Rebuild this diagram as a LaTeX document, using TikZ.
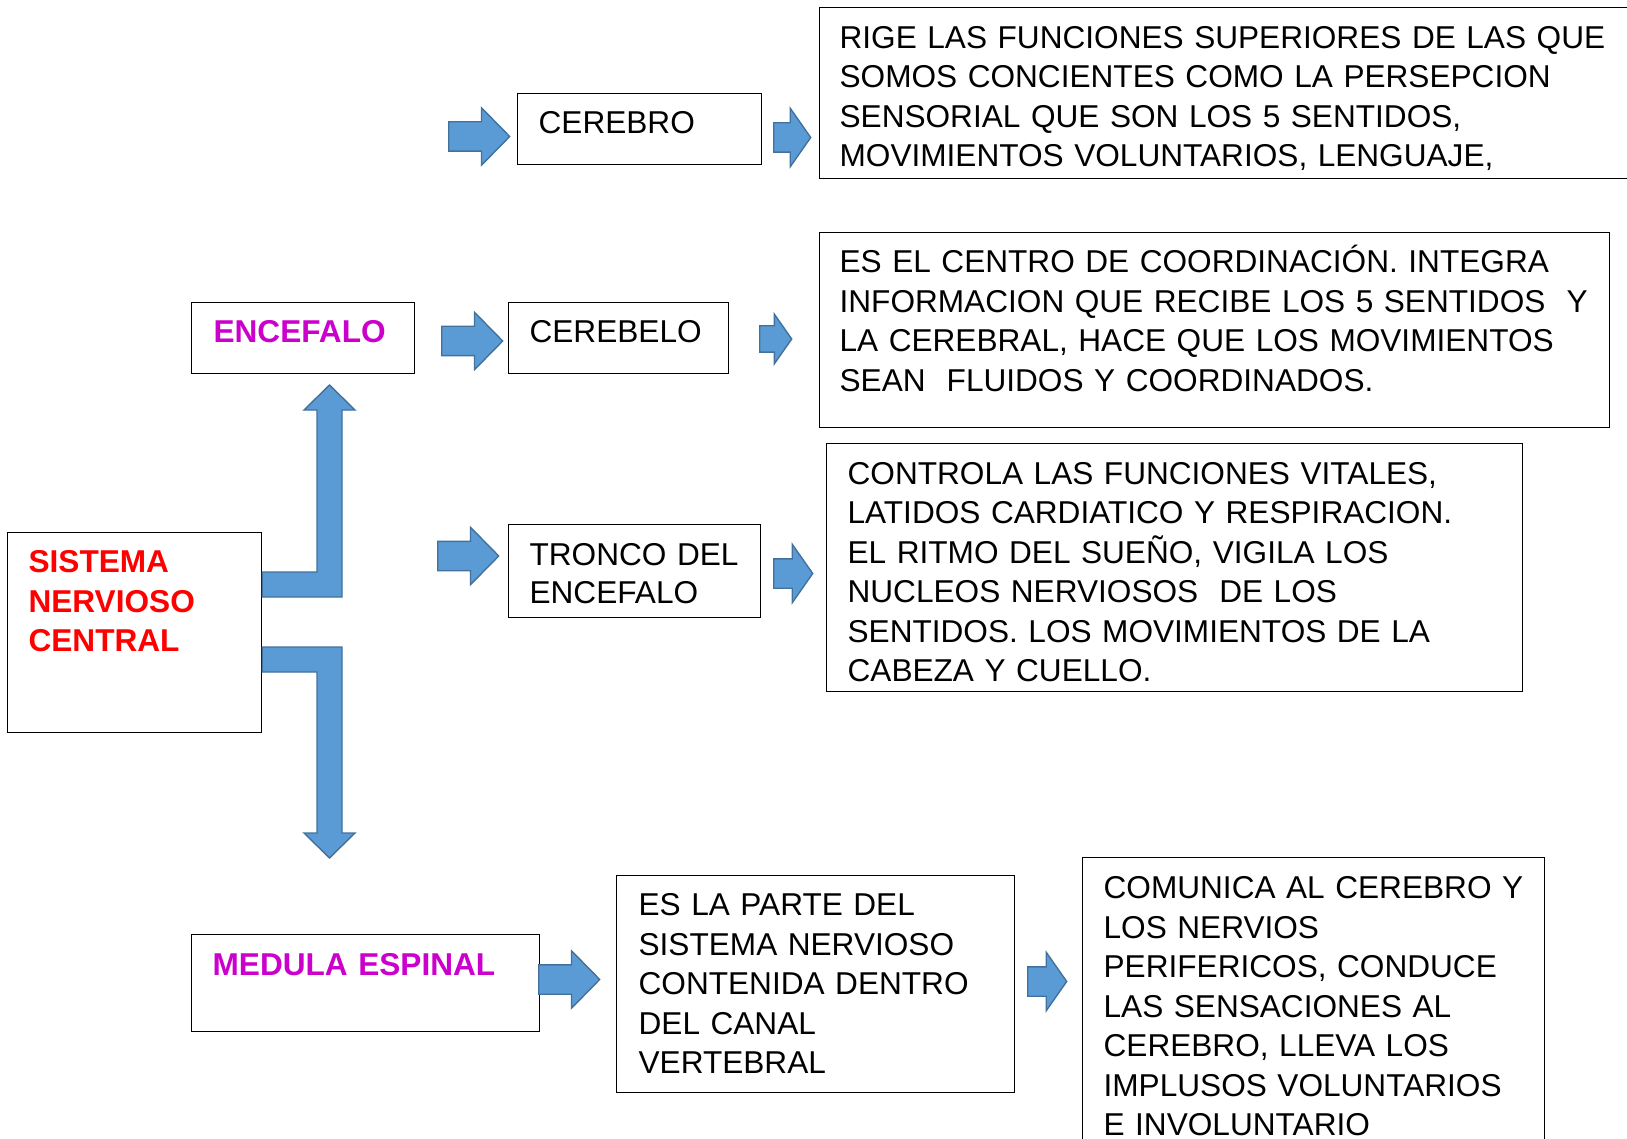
\documentclass[tikz,border=0pt]{standalone}
\usepackage{fontspec}
\setmainfont{Liberation Sans}
\usetikzlibrary{shapes.arrows}
\definecolor{arrowblue}{RGB}{91,155,213}
\definecolor{arrowline}{RGB}{65,113,156}
\definecolor{titlered}{RGB}{255,0,0}
\definecolor{titlemag}{RGB}{204,0,204}

\begin{document}
\begin{tikzpicture}[x=1pt,y=-1pt,
  box/.style={draw,line width=1.2pt,anchor=north west,
   inner ysep=0pt,inner xsep=21pt,align=left,
   font=\fontsize{31.6}{39.5}\selectfont},
  title/.style={box,font=\fontsize{31.6}{39.5}\selectfont\bfseries},
  block/.style={single arrow,draw=arrowline,fill=arrowblue,
   line width=1.4pt,inner xsep=0pt,inner ysep=14pt,anchor=tail,shape border rotate=0},
  long arrow/.style={block,minimum height=61pt,minimum width=56pt,
   single arrow head extend=14pt,single arrow tip angle=91},
  short arrow/.style={block,minimum height=38pt,minimum width=57pt,
   single arrow head extend=14.5pt,single arrow tip angle=110}]

 \useasboundingbox (0,0) rectangle (1627,1139);
 \clip (0,0) rectangle (1627,1139);

 \node[title,text=titlered,text width=212pt,text height=40pt,text depth=160pt] (snc) at (7,532){
 SISTEMA\\NERVIOSO\\CENTRAL};

 \draw[arrowline,fill=arrowblue,line width=1.4pt] (snc.east |- 0,572) -- (317,572) -- (317,410)
  -- (304,410) -- (329.5,385) -- (355,410) -- (342,410) -- (342,597) -- (snc.east |- 0,597) -- cycle;
 \draw[arrowline,fill=arrowblue,line width=1.4pt] (snc.east |- 0,647) -- (342,647) -- (342,833)
  -- (355,833) -- (329.5,858) -- (304,833) -- (317,833) -- (317,672) -- (snc.east |- 0,672) -- cycle;

 \node[title,text=titlemag,inner xsep=22pt,text width=179pt,text height=39.5pt,text depth=31pt] (encefalo) at (191,302){
 ENCEFALO};

 \node[title,text=titlemag,text width=306pt,text height=41pt,text depth=56pt] (medula) at (191,934){
 MEDULA ESPINAL};

 \node[box,text width=202pt,text height=40pt,text depth=31pt] (cerebro) at (517,93){
 CEREBRO};

 \node[box,text width=178pt,text height=39.5pt,text depth=31pt] (cerebelo) at (508,302){
 CEREBELO};

 \node[box,font=\fontsize{31.6}{37.5}\selectfont,text width=210pt,text height=41pt,text depth=52pt] (tronco) at (508,524){
 TRONCO DEL\\ENCEFALO};

 \node[box,inner xsep=20pt,text width=781pt,text height=40.8pt,text depth=130.2pt] (cerebrotxt) at (819,7){
 RIGE LAS FUNCIONES SUPERIORES DE LAS QUE\\
 SOMOS CONCIENTES COMO LA PERSEPCION\\
 SENSORIAL QUE SON LOS 5 SENTIDOS,\\
 MOVIMIENTOS VOLUNTARIOS, LENGUAJE,};

 \node[box,inner xsep=20pt,text width=750pt,text height=40pt,text depth=154.5pt] (cerebelotxt) at (819,232){
 ES EL CENTRO DE COORDINACIÓN. INTEGRA\\
 INFORMACION QUE RECIBE LOS 5 SENTIDOS~ Y\\
 LA CEREBRAL, HACE QUE LOS MOVIMIENTOS\\
 SEAN~ FLUIDOS Y COORDINADOS.};

 \node[box,text width=654pt,text height=40.5pt,text depth=207.5pt] (troncotxt) at (826,443){
 CONTROLA LAS FUNCIONES VITALES,\\
 LATIDOS CARDIATICO Y RESPIRACION.\\
 EL RITMO DEL SUEÑO, VIGILA LOS\\
 NUCLEOS NERVIOSOS~ DE LOS\\
 SENTIDOS. LOS MOVIMIENTOS DE LA\\
 CABEZA Y CUELLO.};

 \node[box,inner xsep=22pt,text width=354pt,text height=40pt,text depth=177pt] (medulatxt) at (616,875){
 ES LA PARTE DEL\\
 SISTEMA NERVIOSO\\
 CONTENIDA DENTRO\\
 DEL CANAL\\
 VERTEBRAL};

 \node[box,text width=420pt,text height=41pt,text depth=262pt] (nerviostxt) at (1082,857){
 COMUNICA AL CEREBRO Y\\
 LOS NERVIOS\\
 PERIFERICOS, CONDUCE\\
 LAS SENSACIONES AL\\
 CEREBRO, LLEVA LOS\\
 IMPLUSOS VOLUNTARIOS\\
 E INVOLUNTARIO};

 \node[long arrow] (arrcerebro) at (448,136.5){};
 \node[short arrow,minimum height=37pt] (arrcerebrotxt) at (773,137.5){};
 \node[long arrow] (arrcerebelo) at (441,341){};
 \node[short arrow,minimum height=32pt,minimum width=48pt,inner ysep=12.5pt,single arrow head extend=11.5pt] (arrcerebelotxt) at (759,339){};
 \node[long arrow] (arrtronco) at (437,556){};
 \node[short arrow,minimum height=39pt] (arrtroncotxt) at (773,573.5){};
 \node[long arrow] (arrmedula) at (538,979.5){};
 \node[short arrow,minimum height=39pt] (arrmedulatxt) at (1027,981.5){};
\end{tikzpicture}
\end{document}
